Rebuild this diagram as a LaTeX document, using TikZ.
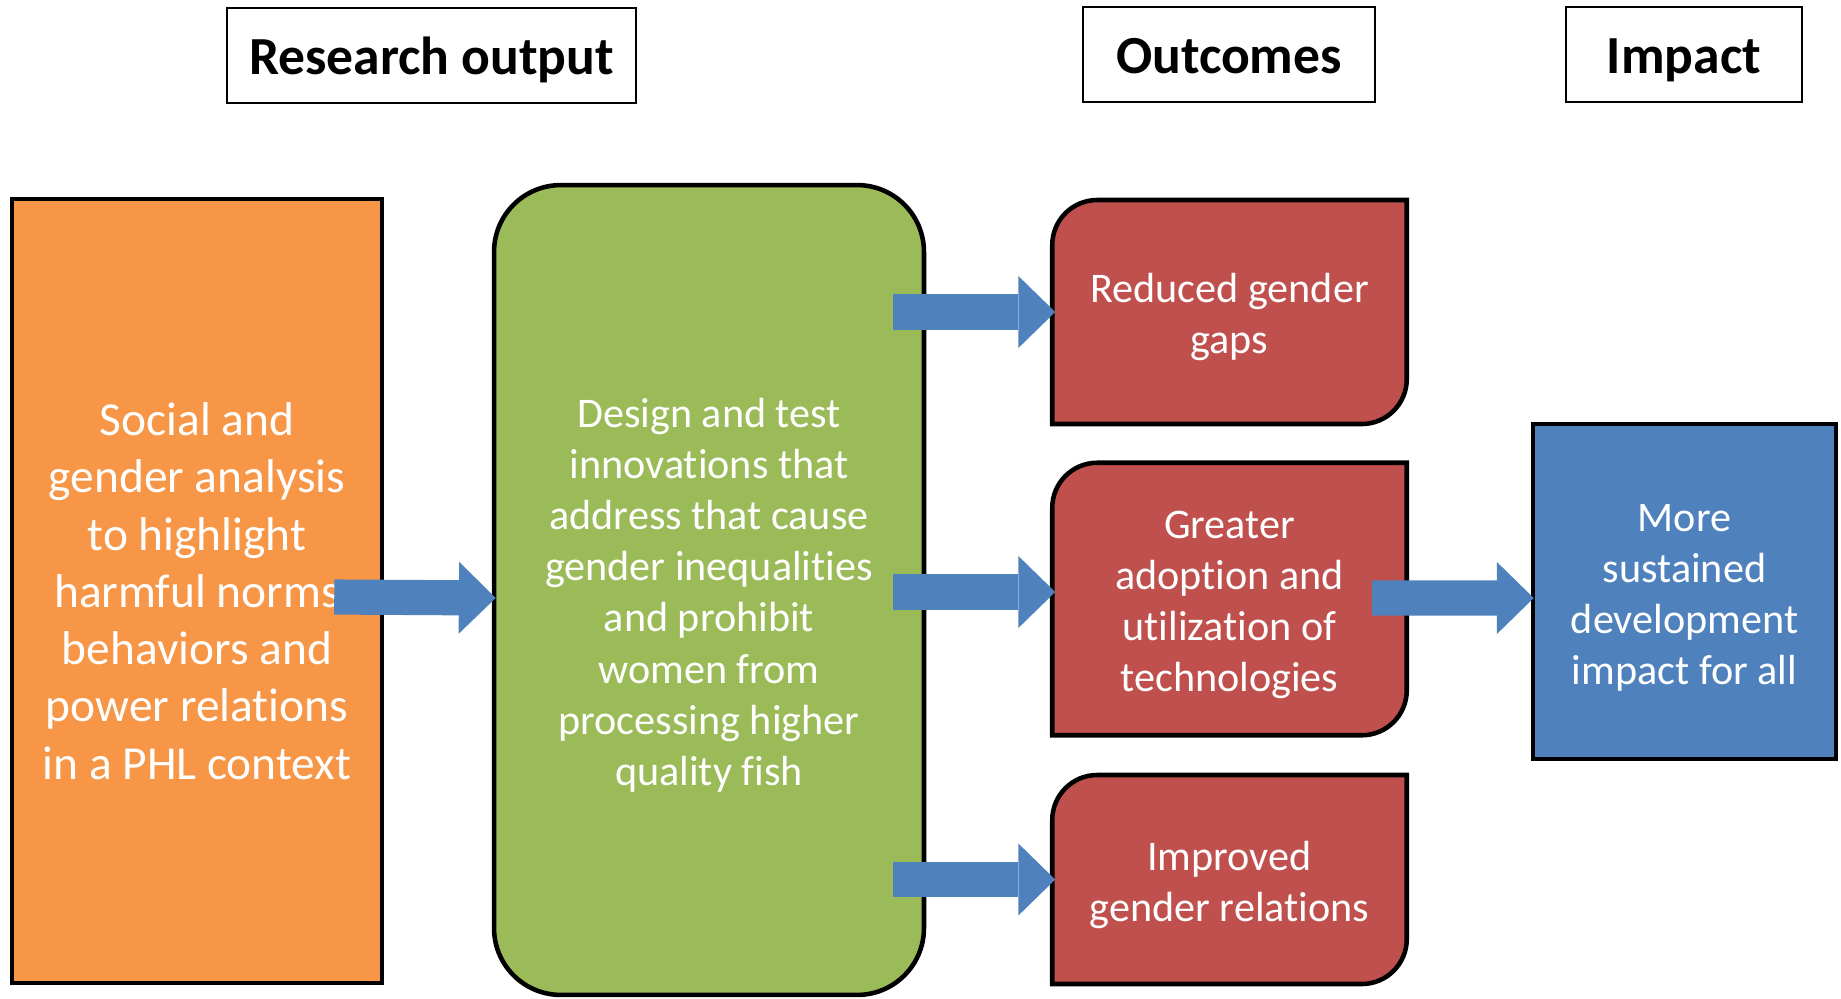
\documentclass[tikz,border=0pt]{standalone}
\usepackage{fontspec}
\setmainfont{Carlito}[Ligatures=NoCommon]
\usetikzlibrary{arrows.meta,calc,backgrounds}
\definecolor{boxorange}{HTML}{F79646}
\definecolor{boxgreen}{HTML}{9BBB59}
\definecolor{boxred}{HTML}{C0504D}
\definecolor{boxblue}{HTML}{4F81BD}
\newcommand{\topstrut}{\rule{0pt}{22.5pt}}
\begin{document}
\begin{tikzpicture}[x=0.02cm, y=-0.02cm]
	\tikzstyle{header} = [rectangle,draw,line width=1.2pt,minimum height=1.9cm,text height=24pt,text depth=2pt,font=\fontsize{30.5}{36}\selectfont\bfseries]
	\tikzstyle{block} = [rectangle,draw,line width=2.6pt,text=white,align=center,font=\fontsize{24}{29.1}\selectfont]
	\tikzstyle{outcome} = [block,draw=none,minimum width=7.0cm]
	\tikzstyle{tab} = [fill=boxred,draw,line width=2.6pt]
	\tikzstyle{blockarrow} = [boxblue,line width=20pt,-{Triangle[length=21pt,width=41pt,line width=0pt]}]
	\useasboundingbox (0,0) rectangle (1841,998);
	\node[header,minimum width=8.18cm](outputhead)at(431.5,55.5){Research output};
	\node[header,minimum width=5.84cm](outcomehead)at(1229,54.5){Outcomes};
	\node[header,minimum width=4.72cm](impacthead)at(1684,54.5){Impact};
	\node[block,fill=boxorange,minimum width=7.4cm,minimum height=15.68cm,font=\fontsize{27}{32.6}\selectfont](analysis)at(197,591){Social and\\gender analysis\\to highlight\\harmful norms\\behaviors and\\power relations\\in a PHL context};
	\node[block,fill=boxgreen,rounded corners=38pt,minimum width=8.6cm,minimum height=16.2cm](innovation)at(709,590){\topstrut Design and test\\innovations that\\address that cause\\gender inequalities\\and prohibit\\women from\\processing higher\\quality fish};
	\node[outcome,minimum height=4.39cm](gaps)at(1229.5,312){\topstrut Reduced gender\\gaps};
	\node[outcome,minimum height=5.36cm](adoption)at(1229.5,599){\topstrut Greater\\adoption and\\utilization of\\technologies};
	\node[outcome,minimum height=4.09cm](relations)at(1229.5,879.5){\topstrut Improved\\gender relations};
	\node[block,fill=boxblue,minimum width=6.06cm,minimum height=6.7cm](impact)at(1684.5,591.5){\topstrut More\\sustained\\development\\impact for all};
	\begin{pgfonlayer}{background}
	\foreach \b in {gaps,adoption,relations}
		\draw[tab] (\b.south west) -- ($(\b.north west)+(0,45)$) arc[start angle=180,end angle=90,radius=0.9cm]
		-- (\b.north east) -- ($(\b.south east)+(0,-45)$) arc[start angle=0,end angle=-90,radius=0.9cm] -- cycle;
	\end{pgfonlayer}
	\path[blockarrow] ($(analysis.east)+(-50,6)$) edge ($(innovation.west)+(4,8)$)
	($(innovation.east |- gaps.west)+(-33,0)$) edge ($(gaps.west)+(3,0)$)
	($(innovation.east)+(-33,2)$) edge ($(adoption.west)+(3,-7)$)
	($(innovation.east |- relations.west)+(-33,0)$) edge ($(relations.west)+(3,0)$)
	($(adoption.east)+(-35,-1)$) edge ($(impact.west)+(3,6.5)$);
\end{tikzpicture}
\end{document}
